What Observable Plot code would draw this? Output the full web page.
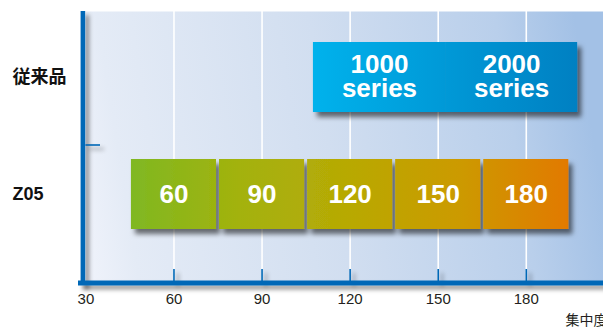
<!DOCTYPE html>
<html>
<head>
<meta charset="utf-8">
<script src="https://cdn.jsdelivr.net/npm/d3@7"></script>
<script src="https://cdn.jsdelivr.net/npm/@observablehq/plot@0.6"></script>
<style>
  html, body { margin: 0; padding: 0; background: #ffffff; }
  svg { display: block; }
</style>
</head>
<body>
<div id="chart"></div>
<script>
// ---- data ----
const categories = ["従来品", "Z05"];
const z05Values = [60, 90, 120, 150, 180];
const z05Start  = [45, 75, 105, 135, 165];
const z05End    = [75, 105, 135, 165, 195];
const seriesLabels = ["1000\nseries", "2000\nseries"];
const seriesStart  = [107.5, 152.5];
const seriesEnd    = [152.5, 197.5];
const xTicks = [30, 60, 90, 120, 150, 180];
const gridValues = [60, 90, 120, 150, 180];
const xLabel = "集中度";

const z05Data = z05Values.map((v, i) => ({cat: categories[1], v, x1: z05Start[i], x2: z05End[i]}));
const seriesData = seriesLabels.map((l, i) => ({cat: categories[0], label: l, x1: seriesStart[i], x2: seriesEnd[i]}));

const BLUE = "#0068b7";
const FONT = "'Liberation Sans', Arial, 'Noto Sans CJK JP', sans-serif";

const marks = [
  Plot.frame({fill: "url(#bgGrad)", stroke: "none"}),                                               // 0 background
  Plot.ruleX(gridValues, {stroke: "#ffffff", strokeWidth: 1.6}),                                     // 1 grid
  Plot.ruleX(gridValues, {stroke: BLUE, strokeWidth: 1.6, insetTop: 258}),                           // 2 x ticks
  Plot.ruleX([30], {stroke: BLUE, strokeWidth: 4.6, dx: -3, insetBottom: -2.5}),                     // 3 y axis line
  Plot.frame({anchor: "bottom", stroke: BLUE, strokeWidth: 5, insetLeft: -5.4}),                     // 4 x axis line
  Plot.ruleY([categories[1]], {y: d => d, dy: -49.5, insetRight: 503, stroke: BLUE, strokeWidth: 1.6}), // 5 y tick
  Plot.barX(seriesData, {x1: "x1", x2: "x2", y: "cat", fill: "url(#blueGrad)"}),                     // 6
  Plot.barX(z05Data, {x1: "x1", x2: "x2", y: "cat", fill: "url(#orangeGrad)", insetLeft: 1.5, insetRight: 1.5}), // 7
  Plot.text(seriesData, {x: d => (d.x1 + d.x2) / 2, y: "cat", text: "label", fill: "white", fontWeight: "bold", fontSize: 26, lineHeight: 0.9, fontFamily: FONT}),
  Plot.text(z05Data, {x: "v", y: "cat", text: d => String(d.v), fill: "white", fontWeight: "bold", fontSize: 26, fontFamily: FONT}),
  Plot.text(categories, {y: d => d, frameAnchor: "left", dx: -73.4, textAnchor: "start", fontWeight: "bold", fontSize: 18, fill: "#111", fontFamily: FONT}),
  Plot.text(xTicks, {x: d => d, frameAnchor: "bottom", dy: 21, fontSize: 15, fill: "#231f20", fontFamily: FONT}),
  Plot.text([xLabel], {frameAnchor: "bottom-right", textAnchor: "start", dx: -38, dy: 41.5, fontSize: 14, fill: "#231f20", fontFamily: FONT})
];

const chart = Plot.plot({
  width: 603,
  height: 332,
  marginLeft: 85.4,
  marginRight: 0,
  marginTop: 11,
  marginBottom: 49.5,
  style: {fontFamily: FONT, fontSize: "15px", color: "#231f20", background: "#ffffff", overflow: "hidden"},
  x: {domain: [30, 206.3], axis: null},
  y: {domain: categories, axis: null, paddingInner: 0.4, paddingOuter: 0.2, insetTop: 7.25, insetBottom: 29.25},
  marks
});

document.getElementById("chart").appendChild(chart);

// gradients & shadows, positioned with the chart's own x scale
const xs = chart.scale("x");
const px = v => xs.apply(v);
const svg = d3.select(chart);
const defs = svg.insert("defs", ":first-child");

function grad(id, x1, x2, y1, y2, stops) {
  const g = defs.append("linearGradient").attr("id", id).attr("gradientUnits", "userSpaceOnUse")
    .attr("x1", x1).attr("x2", x2).attr("y1", y1).attr("y2", y2);
  stops.forEach(([o, c]) => g.append("stop").attr("offset", o).attr("stop-color", c));
}
grad("bgGrad", px(30), px(206.3), 282, 200, [[0, "#f0f3fb"], [0.1, "#e4ebf6"], [0.5, "#d1def0"], [0.85, "#b9cfeb"], [1, "#a3c1e6"]]);
grad("orangeGrad", px(45), px(195), 0, 0, [[0, "#7fb823"], [0.25, "#a3b20b"], [0.5, "#b8a905"], [0.75, "#cc9a01"], [1, "#e27900"]]);
grad("blueGrad", px(107.5), px(197.5), 0, 0, [[0, "#00b2ec"], [1, "#0080c2"]]);

function shadow(id, dx, dy, sd, op) {
  const f = defs.append("filter").attr("id", id).attr("filterUnits", "userSpaceOnUse")
    .attr("x", 0).attr("y", 0).attr("width", 603).attr("height", 332);
  f.append("feDropShadow").attr("dx", dx).attr("dy", dy).attr("stdDeviation", sd)
    .attr("flood-color", "#000").attr("flood-opacity", op);
}
shadow("barShadow", 4, 5, 2.5, 0.55);
shadow("axisShadow", 4, 4, 2, 0.4);

const markEls = Array.from(chart.children).filter(el => el.tagName !== "defs" && el.tagName !== "style");
[6, 7].forEach(i => markEls[i] && markEls[i].setAttribute("filter", "url(#barShadow)"));
[2, 3, 4, 5].forEach(i => markEls[i] && markEls[i].setAttribute("filter", "url(#axisShadow)"));
</script>
</body>
</html>
